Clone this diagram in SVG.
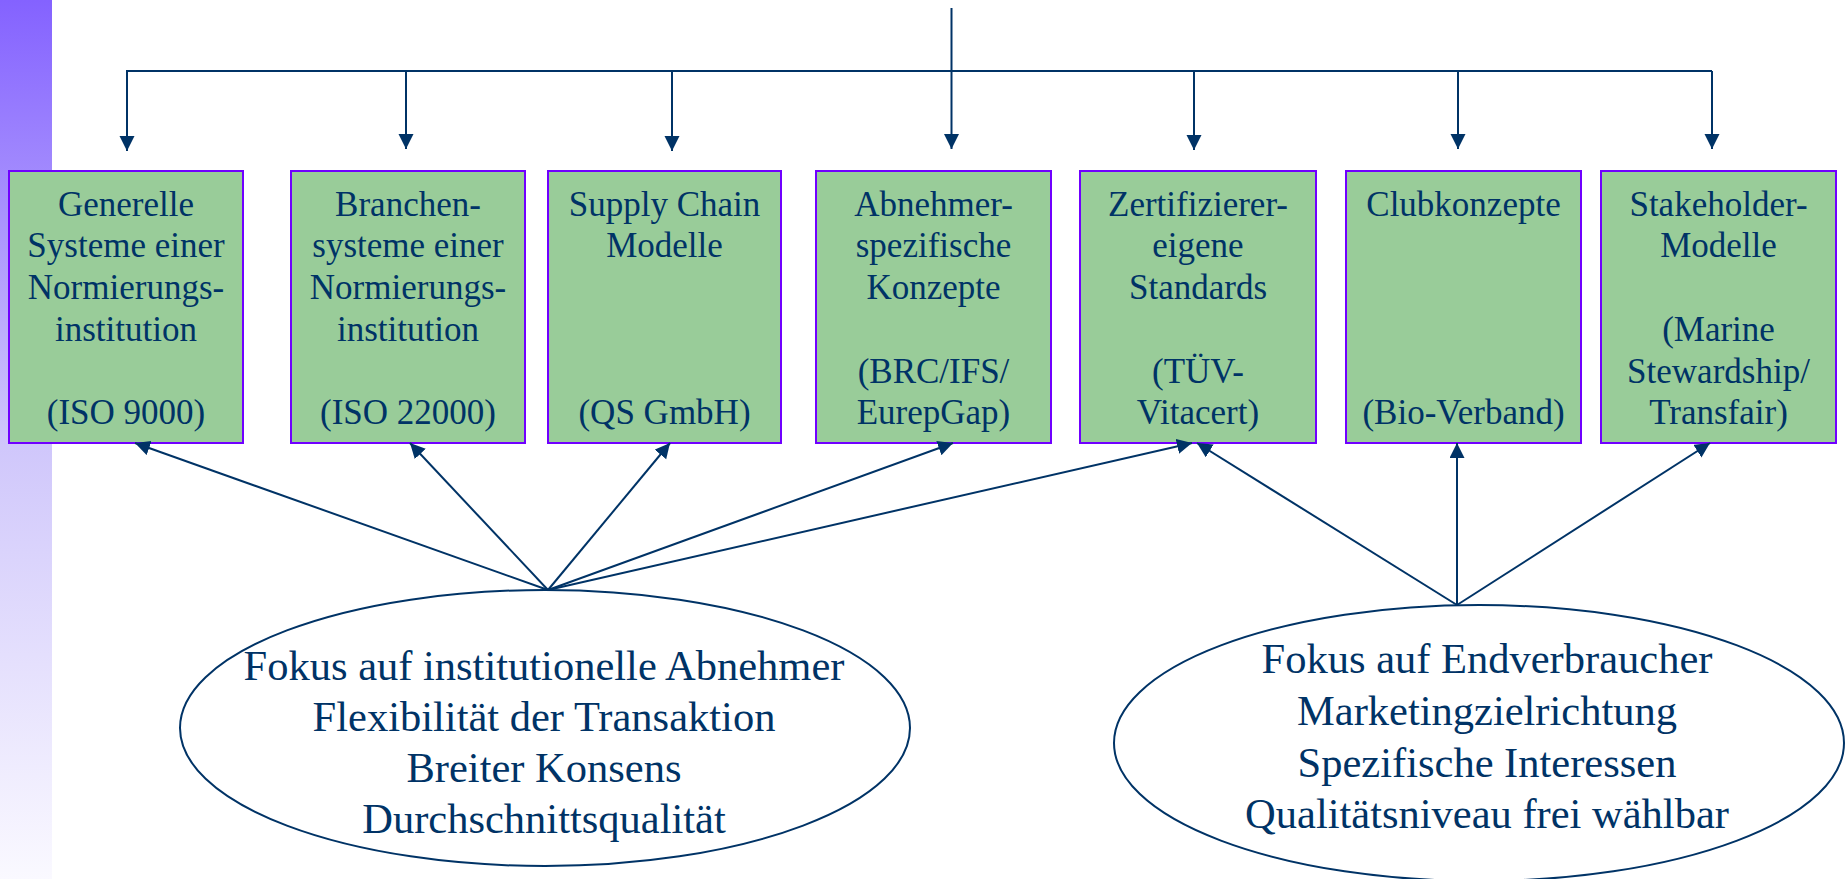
<svg xmlns="http://www.w3.org/2000/svg" width="1845" height="879" viewBox="0 0 1845 879">
<defs>
<linearGradient id="side" x1="0" y1="0" x2="0" y2="1">
<stop offset="0" stop-color="#8462FF"/>
<stop offset="0.5" stop-color="#CFC6FB"/>
<stop offset="1" stop-color="#FAF9FF"/>
</linearGradient>
<marker id="ah" markerUnits="userSpaceOnUse" markerWidth="16" markerHeight="16" viewBox="0 0 16 16" refX="15" refY="7.5" orient="auto">
<path d="M0,0 L15,7.5 L0,15 z" fill="#003366"/>
</marker>
</defs>
<style>
.box{fill:#99CC99;stroke:#7000FF;stroke-width:2}
.bt{font-family:"Liberation Serif","Times New Roman",serif;font-size:35px;fill:#003366;text-anchor:middle}
.et{font-family:"Liberation Serif","Times New Roman",serif;font-size:42.5px;fill:#003366;text-anchor:middle}
.ell{fill:#FFFFFF;stroke:#003366;stroke-width:2}
.c{fill:none;stroke:#003366;stroke-width:2}
.a{fill:none;stroke:#003366;stroke-width:2;marker-end:url(#ah)}
</style>
<rect x="0" y="0" width="52" height="879" fill="url(#side)"/>

<g id="node-generelle">
<rect class="box" x="9" y="171" width="234" height="272"/>
<text class="bt"><tspan x="126" y="216">Generelle</tspan><tspan x="126" y="257">Systeme einer</tspan><tspan x="126" y="299">Normierungs-</tspan><tspan x="126" y="341">institution</tspan><tspan x="126" y="424">(ISO 9000)</tspan></text>
</g>
<g id="node-branchen">
<rect class="box" x="291" y="171" width="234" height="272"/>
<text class="bt"><tspan x="408" y="216">Branchen-</tspan><tspan x="408" y="257">systeme einer</tspan><tspan x="408" y="299">Normierungs-</tspan><tspan x="408" y="341">institution</tspan><tspan x="408" y="424">(ISO 22000)</tspan></text>
</g>
<g id="node-supply">
<rect class="box" x="548" y="171" width="233" height="272"/>
<text class="bt"><tspan x="664.5" y="216">Supply Chain</tspan><tspan x="664.5" y="257">Modelle</tspan><tspan x="664.5" y="424">(QS GmbH)</tspan></text>
</g>
<g id="node-abnehmer">
<rect class="box" x="816" y="171" width="235" height="272"/>
<text class="bt"><tspan x="933.5" y="216">Abnehmer-</tspan><tspan x="933.5" y="257">spezifische</tspan><tspan x="933.5" y="299">Konzepte</tspan><tspan x="933.5" y="383">(BRC/IFS/</tspan><tspan x="933.5" y="424">EurepGap)</tspan></text>
</g>
<g id="node-zertifizierer">
<rect class="box" x="1080" y="171" width="236" height="272"/>
<text class="bt"><tspan x="1198" y="216">Zertifizierer-</tspan><tspan x="1198" y="257">eigene</tspan><tspan x="1198" y="299">Standards</tspan><tspan x="1198" y="383">(TÜV-</tspan><tspan x="1198" y="424">Vitacert)</tspan></text>
</g>
<g id="node-club">
<rect class="box" x="1346" y="171" width="235" height="272"/>
<text class="bt"><tspan x="1463.5" y="216">Clubkonzepte</tspan><tspan x="1463.5" y="424">(Bio-Verband)</tspan></text>
</g>
<g id="node-stakeholder">
<rect class="box" x="1601" y="171" width="235" height="272"/>
<text class="bt"><tspan x="1718.5" y="216">Stakeholder-</tspan><tspan x="1718.5" y="257">Modelle</tspan><tspan x="1718.5" y="341">(Marine</tspan><tspan x="1718.5" y="383">Stewardship/</tspan><tspan x="1718.5" y="424">Transfair)</tspan></text>
</g>

<g id="node-institutionell">
<ellipse class="ell" cx="545" cy="728" rx="365" ry="138"/>
<text class="et"><tspan x="544" y="680">Fokus auf institutionelle Abnehmer</tspan><tspan x="544" y="731">Flexibilität der Transaktion</tspan><tspan x="544" y="782">Breiter Konsens</tspan><tspan x="544" y="833">Durchschnittsqualität</tspan></text>
</g>
<g id="node-endverbraucher">
<ellipse class="ell" cx="1479" cy="743" rx="365" ry="138"/>
<text class="et"><tspan x="1487" y="673">Fokus auf Endverbraucher</tspan><tspan x="1487" y="725">Marketingzielrichtung</tspan><tspan x="1487" y="777">Spezifische Interessen</tspan><tspan x="1487" y="828">Qualitätsniveau frei wählbar</tspan></text>
</g>

<g id="connectors">
<line class="c" x1="951.5" y1="8" x2="951.5" y2="71"/>
<line class="c" x1="126" y1="71" x2="1712" y2="71"/>
<line class="a" x1="127" y1="71" x2="127" y2="151"/>
<line class="a" x1="406" y1="71" x2="406" y2="149"/>
<line class="a" x1="672" y1="71" x2="672" y2="151"/>
<line class="a" x1="951.5" y1="71" x2="951.5" y2="149"/>
<line class="a" x1="1194" y1="71" x2="1194" y2="150"/>
<line class="a" x1="1458" y1="71" x2="1458" y2="149"/>
<line class="a" x1="1712" y1="71" x2="1712" y2="149"/>

<line class="a" x1="548" y1="590" x2="135" y2="443"/>
<line class="a" x1="548" y1="590" x2="410" y2="443"/>
<line class="a" x1="548" y1="590" x2="670" y2="443"/>
<line class="a" x1="548" y1="590" x2="953" y2="443"/>
<line class="a" x1="548" y1="590" x2="1192" y2="443"/>
<line class="a" x1="1457" y1="605" x2="1197" y2="443"/>
<line class="a" x1="1457" y1="605" x2="1457" y2="443"/>
<line class="a" x1="1457" y1="605" x2="1710" y2="443"/>
</g>
</svg>
